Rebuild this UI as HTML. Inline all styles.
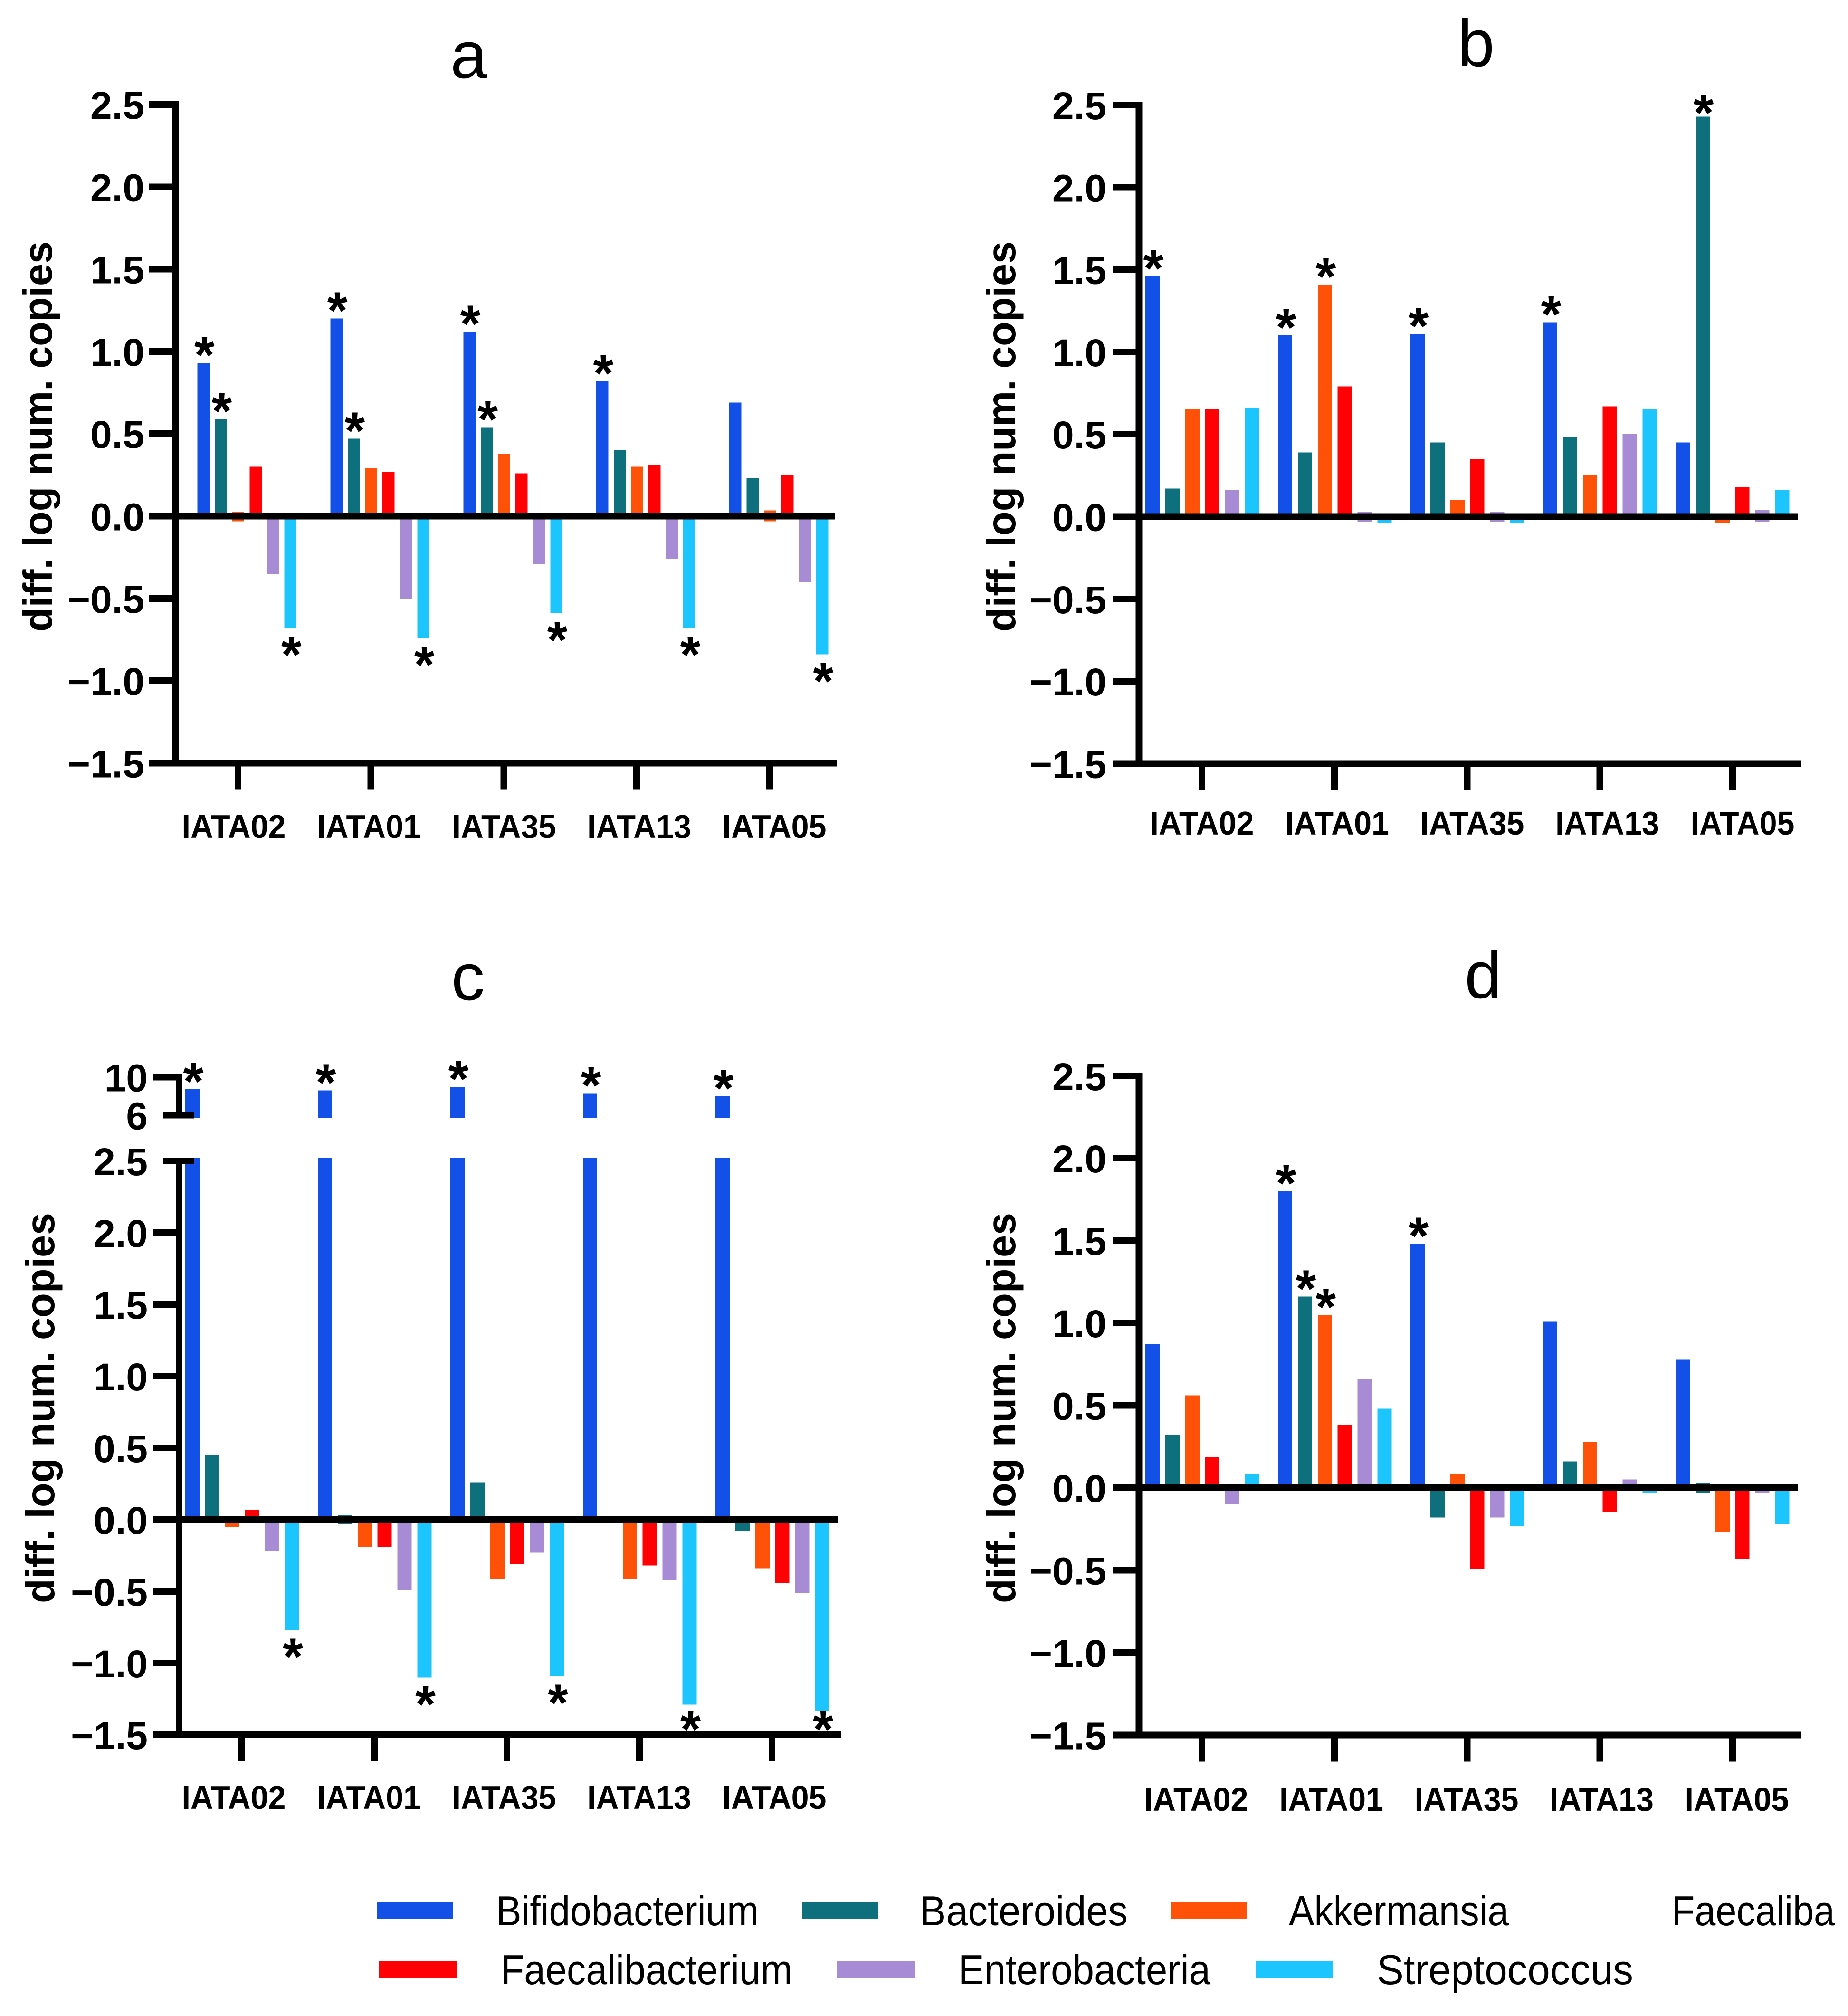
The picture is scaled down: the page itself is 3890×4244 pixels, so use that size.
<!DOCTYPE html>
<html lang="en">
<head>
<meta charset="utf-8">
<title>Differential log copy numbers by bacterial group</title>
<style>
html,body{margin:0;padding:0;background:#fff;width:3890px;height:4244px;overflow:hidden}
svg{display:block}
text{font-family:"Liberation Sans",Arial,sans-serif;fill:#000}
</style>
</head>
<body>
<svg id="figure" xmlns="http://www.w3.org/2000/svg" width="3890" height="4244" viewBox="0 0 3890 4244">
  <rect x="0" y="0" width="3890" height="4244" fill="#ffffff"/>
  <g id="panels"></g>
  <g id="legend">
    <g>
      <rect x="793" y="4005" width="161" height="34" fill="#1350e8"/>
      <text x="1044" y="4053" font-size="88" textLength="553" lengthAdjust="spacingAndGlyphs">Bifidobacterium</text>
    </g>
    <g>
      <rect x="1689" y="4005" width="160" height="34" fill="#0f707d"/>
      <text x="1936" y="4053" font-size="88" textLength="438" lengthAdjust="spacingAndGlyphs">Bacteroides</text>
    </g>
    <g>
      <rect x="2464" y="4005" width="160" height="34" fill="#ff5208"/>
      <text x="2713" y="4053" font-size="88" textLength="463" lengthAdjust="spacingAndGlyphs">Akkermansia</text>
    </g>
    <text x="3519" y="4053" font-size="88" textLength="343" lengthAdjust="spacingAndGlyphs">Faecaliba</text>
    <g>
      <rect x="798" y="4129" width="164" height="34" fill="#ff0005"/>
      <text x="1054" y="4177" font-size="88" textLength="614" lengthAdjust="spacingAndGlyphs">Faecalibacterium</text>
    </g>
    <g>
      <rect x="1762" y="4129" width="165" height="34" fill="#a78cd5"/>
      <text x="2017" y="4177" font-size="88" textLength="531" lengthAdjust="spacingAndGlyphs">Enterobacteria</text>
    </g>
    <g>
      <rect x="2643" y="4129" width="162" height="34" fill="#1dc5ff"/>
      <text x="2898" y="4177" font-size="88" textLength="540" lengthAdjust="spacingAndGlyphs">Streptococcus</text>
    </g>
  </g>
</svg>
<script>
// ---- shared chart data ----
const categories = ['IATA02', 'IATA01', 'IATA35', 'IATA13', 'IATA05'];
const seriesNames = ['bifidobacterium', 'bacteroides', 'akkermansia', 'faecalibacterium', 'enterobacteria', 'streptococcus'];
const yTickValues = [2.5, 2.0, 1.5, 1.0, 0.5, 0.0, -0.5, -1.0, -1.5];
const brokenTickValues = [10, 6];

// ---- panel a: one array per series, one value per category ----
const aBifidobacterium = [0.93, 1.20, 1.12, 0.82, 0.69];
const aBacteroides = [0.59, 0.47, 0.54, 0.40, 0.23];
const aAkkermansia = [0.025, 0.29, 0.38, 0.30, 0.035];
const aFaecalibacterium = [0.30, 0.27, 0.26, 0.31, 0.25];
const aEnterobacteria = [-0.35, -0.50, -0.29, -0.26, -0.40];
const aStreptococcus = [-0.68, -0.74, -0.59, -0.68, -0.84];
const aStars = [[0,0],[0,1],[0,5],[1,0],[1,1],[1,5],[2,0],[2,1],[2,5],[3,0],[3,5],[4,5]];

// ---- panel b ----
const bBifidobacterium = [1.46, 1.10, 1.11, 1.18, 0.45];
const bBacteroides = [0.17, 0.39, 0.45, 0.48, 2.43];
const bAkkermansia = [0.65, 1.41, 0.10, 0.25, -0.04];
const bFaecalibacterium = [0.65, 0.79, 0.35, 0.67, 0.18];
const bEnterobacteria = [0.16, 0.03, 0.03, 0.50, 0.04];
const bStreptococcus = [0.66, -0.04, -0.04, 0.65, 0.16];
const bStars = [[0,0],[1,0],[1,2],[2,0],[3,0],[4,1]];

// ---- panel c (blue series sits above the axis break) ----
const cBifidobacterium = [8.72, 8.60, 8.97, 8.30, 8.00];
const cBacteroides = [0.45, 0.03, 0.26, 0, -0.08];
const cAkkermansia = [-0.05, -0.19, -0.41, -0.41, -0.34];
const cFaecalibacterium = [0.07, -0.19, -0.31, -0.32, -0.44];
const cEnterobacteria = [-0.22, -0.49, -0.23, -0.42, -0.51];
const cStreptococcus = [-0.77, -1.10, -1.09, -1.29, -1.33];
const cStars = [[0,0],[0,5],[1,0],[1,5],[2,0],[2,5],[3,0],[3,5],[4,0],[4,5]];

// ---- panel d ----
const dBifidobacterium = [0.87, 1.80, 1.48, 1.01, 0.78];
const dBacteroides = [0.32, 1.16, -0.18, 0.16, 0.03];
const dAkkermansia = [0.56, 1.05, 0.08, 0.28, -0.27];
const dFaecalibacterium = [0.185, 0.38, -0.49, -0.15, -0.43];
const dEnterobacteria = [-0.10, 0.66, -0.18, 0.05, 0.02];
const dStreptococcus = [0.08, 0.48, -0.23, 0.02, -0.22];
const dStars = [[1,0],[1,1],[1,2],[2,0]];

const seriesColors = ['#1350e8', '#0f707d', '#ff5208', '#ff0005', '#a78cd5', '#1dc5ff'];
const SVGNS = 'http://www.w3.org/2000/svg';
const panelsRoot = document.getElementById('panels');

function addRect(parent, x, y, w, h, fill, name) {
  const el = document.createElementNS(SVGNS, 'rect');
  
  
  el.setAttribute('x', x);
  el.setAttribute('y', y);
  el.setAttribute('width', Math.max(0, w));
  el.setAttribute('height', Math.max(0, h));
  el.setAttribute('fill', fill);
  el.setAttribute('shape-rendering', 'crispEdges');
  parent.appendChild(el);
  return el;
}

function addText(parent, str, x, y, size, weight, anchor, name) {
  const el = document.createElementNS(SVGNS, 'text');
  
  
  el.setAttribute('x', x);
  el.setAttribute('y', y);
  el.setAttribute('font-size', size);
  el.setAttribute('font-weight', weight);
  el.setAttribute('text-anchor', anchor);
  el.textContent = str;
  parent.appendChild(el);
  return el;
}

function fmtTick(v) {
  return (v < 0 ? '\u2212' : '') + Math.abs(v).toFixed(1);
}

function drawPanel(id, series, stars, L) {
  const g = document.createElementNS(SVGNS, 'g');
  
  
  panelsRoot.appendChild(g);

  const AXW = 14;
  const yScale = v => L.zeroY - v * L.unit;
  const topY = yScale(2.5);
  const botY = yScale(-1.5);
  const zeroY = L.zeroY;
  const upperScale = L.broken ? (v => L.broken.sixY - (v - 6) * L.broken.unit) : null;
  const barX = (gi, si) => L.barStart + gi * L.groupStep + si * L.barStep;

  // title
  addText(g, id, L.titleX, L.titleY, 140, 'normal', 'middle', 'panel-title-' + id);

  // bars
  series.forEach((vals, si) => {
    vals.forEach((v, gi) => {
      const x = barX(gi, si);
      const nm = 'bar-' + id + '-' + categories[gi].toLowerCase() + '-' + seriesNames[si];
      if (L.broken && v > 2.5) {
        addRect(g, x, upperScale(v), L.barW, L.broken.sixY + 6 - upperScale(v), seriesColors[si], nm + '-upper');
        addRect(g, x, topY - 6, L.barW, zeroY - topY + 6, seriesColors[si], nm + '-lower');
      } else if (v > 0 && v < 0.045) {
        addRect(g, x, yScale(v), L.barW, yScale(-0.032) - yScale(v), seriesColors[si], nm);
      } else if (v >= 0) {
        addRect(g, x, yScale(v), L.barW, zeroY - yScale(v), seriesColors[si], nm);
      } else {
        addRect(g, x, zeroY, L.barW, yScale(v) - zeroY, seriesColors[si], nm);
      }
    });
  });

  // significance stars
  stars.forEach(st => {
    const gi = st[0], si = st[1];
    const v = series[si][gi];
    let cy;
    if (L.broken && v > 2.5) cy = upperScale(v) - 30;
    else if (v >= 0) cy = Math.max(yScale(v) - 30, topY + 3);
    else cy = Math.min(yScale(v) + 43, botY - 25);
    addText(g, '*', barX(gi, si) + L.barW / 2 + 2, cy + 51, 110, 'bold', 'middle', 'significance-star-' + id + '-' + categories[gi].toLowerCase() + '-' + seriesNames[si]);
  });

  // y axis
  if (L.broken) {
    addRect(g, L.axisX - AXW / 2, L.broken.tenY - 7, AXW, L.broken.sixY - L.broken.tenY + 14, '#000', 'y-axis-upper-line-' + id);
    addRect(g, L.axisX - AXW / 2, topY - 7, AXW, botY - topY + 14, '#000', 'y-axis-line-' + id);
    brokenTickValues.forEach(v => {
      const ty = upperScale(v);
      if (v === 10) {
        addRect(g, L.tickLeft, ty - 7, L.axisX - L.tickLeft + 7, 14, '#000', 'y-tick-' + id + '-10');
      } else {
        addRect(g, L.axisX - 33, ty - 7, 65, 14, '#000', 'y-tick-' + id + '-6');
      }
      addText(g, String(v), L.labelRight, ty + 30, 82, 'bold', 'end', 'y-tick-label-' + id + '-' + v);
    });
  } else {
    addRect(g, L.axisX - AXW / 2, topY - 7, AXW, botY - topY + 14, '#000', 'y-axis-line-' + id);
  }
  yTickValues.forEach(v => {
    const ty = yScale(v);
    if (L.broken && v === 2.5) {
      addRect(g, L.axisX - 33, ty - 7, 65, 14, '#000', 'y-tick-' + id + '-2-5');
    } else {
      addRect(g, L.tickLeft, ty - 7, L.axisX - L.tickLeft, 14, '#000', 'y-tick-' + id + '-' + String(v).replace('.', '-'));
    }
    addText(g, fmtTick(v), L.labelRight, ty + 30, 82, 'bold', 'end', 'y-tick-label-' + id + '-' + String(v).replace('.', '-'));
  });

  // zero line and x axis
  addRect(g, L.axisX, zeroY - 7, L.zeroRight - L.axisX, 14, '#000', 'zero-line-' + id);
  addRect(g, L.axisX, botY - 7, L.axisRight - L.axisX, 14, '#000', 'x-axis-line-' + id);

  // x ticks and labels
  categories.forEach((c, i) => {
    const tx = L.tickStart + i * L.tickStep;
    addRect(g, tx - 7, botY, 14, 56, '#000', 'x-tick-' + id + '-' + c.toLowerCase());
    const lbl = addText(g, c, L.catStart + i * 284.5, L.catY, 70, 'bold', 'middle', 'x-tick-label-' + id + '-' + c.toLowerCase());
    lbl.setAttribute('textLength', 219);
    lbl.setAttribute('lengthAdjust', 'spacingAndGlyphs');
  });

  // y axis title
  const t = addText(g, 'diff. log num. copies', 0, 0, 85, 'bold', 'middle', 'y-axis-title-' + id);
  t.setAttribute('transform', 'translate(' + L.yTitleX + ' ' + L.yTitleY + ') rotate(-90)');
  t.setAttribute('textLength', 822);
  t.setAttribute('lengthAdjust', 'spacingAndGlyphs');
}

drawPanel('a', [aBifidobacterium, aBacteroides, aAkkermansia, aFaecalibacterium, aEnterobacteria, aStreptococcus], aStars, {
  zeroY: 1086.5, unit: 346.6, axisX: 369, tickLeft: 314, labelRight: 304, zeroRight: 1757, axisRight: 1761,
  barStart: 415.5, barW: 25.5, barStep: 36.6, groupStep: 279.9,
  tickStart: 501, tickStep: 279.7, catStart: 492, catY: 1764,
  titleX: 987, titleY: 164, yTitleX: 109, yTitleY: 919
});
drawPanel('b', [bBifidobacterium, bBacteroides, bAkkermansia, bFaecalibacterium, bEnterobacteria, bStreptococcus], bStars, {
  zeroY: 1087.5, unit: 346.6, axisX: 2397.5, tickLeft: 2342, labelRight: 2329, zeroRight: 3784, axisRight: 3791,
  barStart: 2411, barW: 30, barStep: 41.9, groupStep: 279,
  tickStart: 2530, tickStep: 279.2, catStart: 2530, catY: 1757,
  titleX: 3107, titleY: 139, yTitleX: 2137, yTitleY: 919
});
drawPanel('c', [cBifidobacterium, cBacteroides, cAkkermansia, cFaecalibacterium, cEnterobacteria, cStreptococcus], cStars, {
  zeroY: 3199, unit: 302.1, axisX: 377, tickLeft: 322, labelRight: 311, zeroRight: 1764, axisRight: 1770,
  barStart: 390, barW: 30, barStep: 41.9, groupStep: 279,
  tickStart: 509, tickStep: 279, catStart: 492, catY: 3808,
  titleX: 985, titleY: 2105, yTitleX: 114, yTitleY: 2964,
  broken: { sixY: 2347.5, tenY: 2267.5, unit: 20 }
});
drawPanel('d', [dBifidobacterium, dBacteroides, dAkkermansia, dFaecalibacterium, dEnterobacteria, dStreptococcus], dStars, {
  zeroY: 3132, unit: 346.9, axisX: 2397.5, tickLeft: 2342, labelRight: 2329, zeroRight: 3784, axisRight: 3791,
  barStart: 2411, barW: 30, barStep: 41.9, groupStep: 279,
  tickStart: 2530, tickStep: 279.2, catStart: 2518, catY: 3812,
  titleX: 3122, titleY: 2101, yTitleX: 2137, yTitleY: 2964
});
</script>
</body>
</html>
